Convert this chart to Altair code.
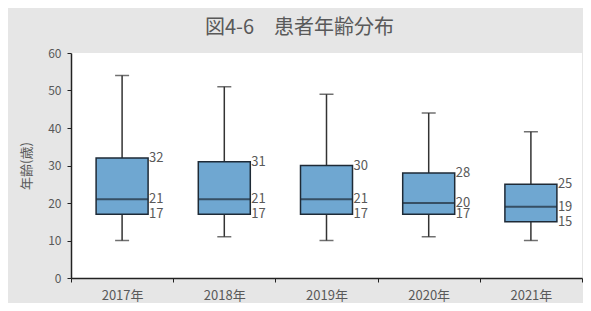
import altair as alt
import pandas as pd

years = ["2017年", "2018年", "2019年", "2020年", "2021年"]
low = [10, 11, 10, 11, 10]
q1 = [17, 17, 17, 17, 15]
med = [21, 21, 21, 20, 19]
q3 = [32, 31, 30, 28, 25]
high = [54, 51, 49, 44, 39]

df = pd.DataFrame({"year": years, "low": low, "q1": q1, "med": med, "q3": q3, "high": high})

FONT = "Noto Sans CJK JP"
GRAY = "#595959"

x = alt.X("year:N", sort=years, title=None,
          scale=alt.Scale(paddingInner=0, paddingOuter=0),
          axis=alt.Axis(labelAngle=0, tickBand="extent", domainColor="#222222",
                        tickColor="#222222", tickSize=4, labelPadding=7,
                        labelFontSize=13, labelColor=GRAY, labelFont=FONT,
                        domainWidth=1.5))
yscale = alt.Scale(domain=[0, 60], nice=False)
yaxis = alt.Axis(values=[0, 10, 20, 30, 40, 50, 60], grid=False, domainColor="#222222",
                 tickColor="#222222", tickSize=4, labelPadding=6, labelFontSize=12,
                 labelColor=GRAY, labelFont=FONT, domainWidth=1.5,
                 title="年齢(歳)", titleFont=FONT, titleFontSize=13, titleColor=GRAY,
                 titleFontWeight="normal", titlePadding=14)


def yenc(field):
    return alt.Y(f"{field}:Q", scale=yscale, axis=yaxis)


base = alt.Chart(df)

whisker = base.mark_rule(color="#333333", strokeWidth=1.5).encode(
    x=x, y=yenc("low"), y2="high:Q")
cap_low = base.mark_tick(color="#333333", size=14, thickness=1.5, orient="horizontal").encode(
    x=x, y=yenc("low"))
cap_high = base.mark_tick(color="#333333", size=14, thickness=1.5, orient="horizontal").encode(
    x=x, y=yenc("high"))
box = base.mark_bar(size=52, color="#6fa7d1", stroke="#1e2a36", strokeWidth=1.5).encode(
    x=x, y=yenc("q1"), y2="q3:Q")
median = base.mark_tick(color="#1e2a36", size=52, thickness=2, orient="horizontal").encode(
    x=x, y=yenc("med"))


def label(field):
    return base.mark_text(align="left", baseline="middle", dx=27, fontSize=13,
                          color=GRAY, font=FONT).encode(
        x=x, y=yenc(field), text=alt.Text(f"{field}:Q"))


chart = alt.layer(whisker, cap_low, cap_high, box, median,
                  label("q3"), label("med"), label("q1")).properties(
    width=511, height=225,
    padding={"left": 63, "top": 45, "right": 1, "bottom": 25},
    autosize=alt.AutoSizeParams(type="none"),
    background="#e6e6e6",
    title=alt.TitleParams("図4-6　患者年齢分布", font=FONT, fontSize=20, color=GRAY,
                          fontWeight="normal", anchor="middle", dx=-27, offset=9),
).configure_view(fill="white", stroke=None)

chart.save("out.html", embed_options={"renderer": "svg", "actions": False})
